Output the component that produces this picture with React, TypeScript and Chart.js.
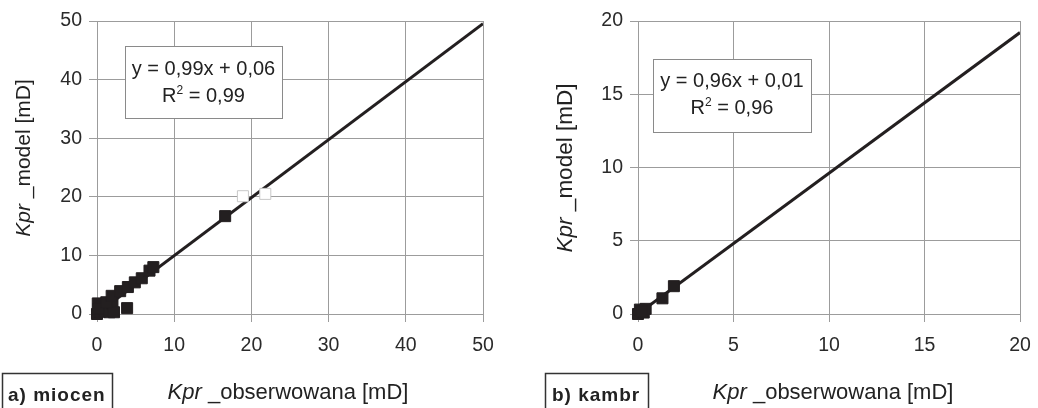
import React, { useEffect, useRef } from "react";
import { Chart, registerables } from "chart.js";

Chart.register(...registerables);

// ---- data: a) miocen ----
const miocenObsX = [0, 0.1, 0.4, 0.6, 1.0, 1.3, 0.2, 1.6, 2.0, 2.2, 1.2, 1.9, 3.0, 3.9, 4.0, 4.9, 5.8, 6.8, 7.3, 16.6];
const miocenModelY = [0, 1.8, 0.4, 1.2, 0.5, 1.5, 0.9, 0.3, 1.8, 0.3, 2.0, 3.1, 3.9, 1.0, 4.6, 5.4, 6.1, 7.4, 8.0, 16.7];
const miocenOpenX = [18.9, 21.8];
const miocenOpenY = [20.1, 20.5];
const miocenTrendX = [0, 50];
const miocenTrendY = [0.06, 49.56];
const miocenTicksX = [0, 10, 20, 30, 40, 50];
const miocenTicksY = [0, 10, 20, 30, 40, 50];
const miocenEquation = "y = 0,99x + 0,06";
const miocenR2 = "0,99";
const miocenLabel = "a) miocen";

// ---- data: b) kambr ----
const kambrObsX = [0, 0.1, 0.3, 0.4, 0.2, 1.28, 1.88];
const kambrModelY = [0, 0.3, 0.1, 0.35, 0.2, 1.07, 1.9];
const kambrTrendX = [0, 20];
const kambrTrendY = [0.01, 19.21];
const kambrTicksX = [0, 5, 10, 15, 20];
const kambrTicksY = [0, 5, 10, 15, 20];
const kambrEquation = "y = 0,96x + 0,01";
const kambrR2 = "0,96";
const kambrLabel = "b) kambr";

const X_TITLE_ITALIC = "Kpr";
const X_TITLE_REST = " _obserwowana [mD]";
const Y_TITLE_ITALIC = "Kpr";
const Y_TITLE_REST = " _model [mD]";

const FONT = '"Liberation Sans", Arial, sans-serif';
const INK = "#231f20";
const GRID = "#9c9c9c";

type Part = { text: string; font: string; dy?: number };

function drawParts(ctx: CanvasRenderingContext2D, parts: Part[], cx: number, baseY: number) {
  let total = 0;
  const widths = parts.map((p) => {
    ctx.font = p.font;
    const w = ctx.measureText(p.text).width;
    total += w;
    return w;
  });
  let x = cx - total / 2;
  ctx.textAlign = "left";
  ctx.textBaseline = "alphabetic";
  parts.forEach((p, i) => {
    ctx.font = p.font;
    ctx.fillText(p.text, x, baseY + (p.dy || 0));
    x += widths[i];
  });
}

type PanelCfg = {
  obsX: number[];
  modelY: number[];
  openX?: number[];
  openY?: number[];
  trendX: number[];
  trendY: number[];
  ticksX: number[];
  ticksY: number[];
  equation: string;
  r2: string;
  label: string;
  layout: {
    yWidth: number;
    padRight: number;
    eqBox: [number, number, number, number];
    eqBase: [number, number];
    labelBox: [number, number, number];
    labelTextX: number;
    xTitleCx: number;
    yTitleX: number;
    yTitleCy: number;
    yTitleSize: number;
  };
};

function Panel({ cfg }: { cfg: PanelCfg }) {
  const ref = useRef<HTMLCanvasElement>(null);
  useEffect(() => {
    if (!ref.current) return;
    const L = cfg.layout;
    const xMax = cfg.ticksX[cfg.ticksX.length - 1];
    const yMax = cfg.ticksY[cfg.ticksY.length - 1];

    const overlay = {
      id: "overlay",
      afterDatasetsDraw(chart: any) {
        const ctx: CanvasRenderingContext2D = chart.ctx;
        ctx.save();
        // equation box
        const [bx, by, bw, bh] = L.eqBox;
        ctx.fillStyle = "#ffffff";
        ctx.fillRect(bx, by, bw, bh);
        ctx.strokeStyle = "#8a8a8a";
        ctx.lineWidth = 1;
        ctx.strokeRect(bx + 0.5, by + 0.5, bw, bh);
        ctx.fillStyle = "#222";
        const cx = bx + bw / 2;
        const f = `20px ${FONT}`;
        drawParts(ctx, [{ text: cfg.equation, font: f }], cx, L.eqBase[0]);
        drawParts(
          ctx,
          [
            { text: "R", font: f },
            { text: "2", font: `12px ${FONT}`, dy: -8 },
            { text: " = " + cfg.r2, font: f },
          ],
          cx,
          L.eqBase[1]
        );
        // x title
        const tf = 22;
        drawParts(
          ctx,
          [
            { text: X_TITLE_ITALIC, font: `italic ${tf}px ${FONT}` },
            { text: X_TITLE_REST, font: `${tf}px ${FONT}` },
          ],
          L.xTitleCx,
          399
        );
        // y title
        ctx.save();
        ctx.translate(L.yTitleX, L.yTitleCy);
        ctx.rotate(-Math.PI / 2);
        drawParts(
          ctx,
          [
            { text: Y_TITLE_ITALIC, font: `italic ${L.yTitleSize}px ${FONT}` },
            { text: Y_TITLE_REST, font: `${L.yTitleSize}px ${FONT}` },
          ],
          0,
          0
        );
        ctx.restore();
        // label box
        const [lx, ly, lw] = L.labelBox;
        ctx.strokeStyle = "#333";
        ctx.lineWidth = 1.5;
        ctx.strokeRect(lx, ly, lw, 60);
        ctx.fillStyle = "#222";
        ctx.font = `bold 19px ${FONT}`;
        (ctx as any).letterSpacing = "1px";
        ctx.textAlign = "left";
        ctx.textBaseline = "alphabetic";
        ctx.fillText(cfg.label, L.labelTextX, 401);
        (ctx as any).letterSpacing = "0px";
        ctx.restore();
      },
    };

    const datasets: any[] = [
      {
        type: "line",
        data: cfg.trendX.map((x, i) => ({ x, y: cfg.trendY[i] })),
        borderColor: INK,
        borderWidth: 3,
        pointRadius: 0,
        fill: false,
        order: 3,
      },
    ];
    if (cfg.openX && cfg.openY) {
      datasets.push({
        type: "scatter",
        data: cfg.openX.map((x, i) => ({ x, y: cfg.openY![i] })),
        pointStyle: "rect",
        pointRadius: 7.8,
        backgroundColor: "#ffffff",
        borderColor: "#c8c8c8",
        borderWidth: 1,
        clip: false,
        order: 2,
      });
    }
    datasets.push({
      type: "scatter",
      data: cfg.obsX.map((x, i) => ({ x, y: cfg.modelY[i] })),
      pointStyle: "rect",
      pointRadius: 7.8,
      backgroundColor: INK,
      borderColor: INK,
      borderWidth: 1,
      clip: false,
      order: 1,
    });

    const chart = new Chart(ref.current, {
      type: "scatter",
      data: { datasets },
      options: {
        animation: false,
        responsive: false,
        devicePixelRatio: 1,
        layout: { padding: { left: 0, right: L.padRight, top: 21, bottom: 0 } },
        plugins: { legend: { display: false }, tooltip: { enabled: false } },
        scales: {
          x: {
            type: "linear",
            min: 0,
            max: xMax,
            afterBuildTicks: (s: any) => {
              s.ticks = cfg.ticksX.map((v) => ({ value: v }));
            },
            afterFit: (s: any) => {
              s.height = 94;
              s.paddingLeft = 0;
              s.paddingRight = 0;
            },
            grid: { color: GRID, lineWidth: 1, tickLength: 8 },
            border: { color: GRID, width: 1 },
            ticks: { color: "#2a2a2a", padding: 12, font: { family: FONT, size: 19.5 }, maxRotation: 0 },
          },
          y: {
            type: "linear",
            min: 0,
            max: yMax,
            afterBuildTicks: (s: any) => {
              s.ticks = cfg.ticksY.map((v) => ({ value: v }));
            },
            afterFit: (s: any) => {
              s.width = L.yWidth;
              s.paddingTop = 0;
              s.paddingBottom = 0;
            },
            grid: { color: GRID, lineWidth: 1, tickLength: 8 },
            border: { color: GRID, width: 1 },
            ticks: { color: "#2a2a2a", padding: 7, font: { family: FONT, size: 19.5 } },
          },
        },
      } as any,
      plugins: [overlay],
    });
    return () => chart.destroy();
  }, [cfg]);
  return <canvas ref={ref} width={519} height={408} style={{ display: "block", width: 519, height: 408 }} />;
}

const miocenCfg: PanelCfg = {
  obsX: miocenObsX,
  modelY: miocenModelY,
  openX: miocenOpenX,
  openY: miocenOpenY,
  trendX: miocenTrendX,
  trendY: miocenTrendY,
  ticksX: miocenTicksX,
  ticksY: miocenTicksY,
  equation: miocenEquation,
  r2: miocenR2,
  label: miocenLabel,
  layout: {
    yWidth: 97,
    padRight: 36,
    eqBox: [125, 46, 157, 72],
    eqBase: [75, 102],
    labelBox: [2.5, 373.5, 110],
    labelTextX: 8,
    xTitleCx: 288,
    yTitleX: 30,
    yTitleCy: 158,
    yTitleSize: 21,
  },
};

const kambrCfg: PanelCfg = {
  obsX: kambrObsX,
  modelY: kambrModelY,
  trendX: kambrTrendX,
  trendY: kambrTrendY,
  ticksX: kambrTicksX,
  ticksY: kambrTicksY,
  equation: kambrEquation,
  r2: kambrR2,
  label: kambrLabel,
  layout: {
    yWidth: 119,
    padRight: 18,
    eqBox: [134, 59, 158, 73],
    eqBase: [87, 114],
    labelBox: [26.5, 373.5, 103],
    labelTextX: 33,
    xTitleCx: 314,
    yTitleX: 53,
    yTitleCy: 168,
    yTitleSize: 22.5,
  },
};

export default function App() {
  return (
    <div style={{ position: "absolute", left: 0, top: 0, width: 1038, height: 408, background: "#fff", overflow: "hidden" }}>
      <div style={{ position: "absolute", left: 0, top: 0 }}>
        <Panel cfg={miocenCfg} />
      </div>
      <div style={{ position: "absolute", left: 519, top: 0 }}>
        <Panel cfg={kambrCfg} />
      </div>
    </div>
  );
}
